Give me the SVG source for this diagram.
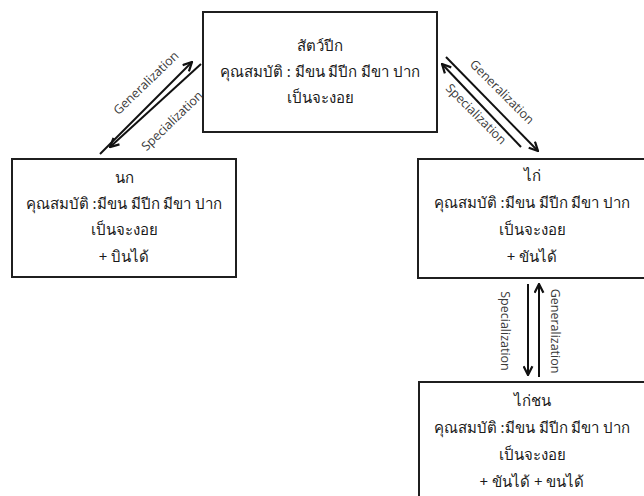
<svg xmlns="http://www.w3.org/2000/svg" width="644" height="496" viewBox="0 0 644 496">
  <style>
    .box { fill: #ffffff; stroke: #1f1f1f; stroke-width: 2; }
    .th { font-family: "Noto Sans", "DejaVu Sans", sans-serif; font-size: 15px; fill: #1a1a1a; text-anchor: middle; }
    .lbl { font-family: "Open Sans", "Liberation Sans", sans-serif; font-size: 12.5px; fill: #3a3a3a; text-anchor: middle; }
    .conn { stroke: #111111; stroke-width: 2; fill: none; marker-end: url(#head); }
  </style>
  <defs>
    <marker id="head" viewBox="0 0 10 10" refX="9" refY="5" markerWidth="5.5" markerHeight="5.5" orient="auto" markerUnits="strokeWidth">
      <path d="M1,1 L9,5 L1,9" fill="none" stroke="#111111" stroke-width="2"/>
    </marker>
  </defs>
  <rect width="644" height="496" fill="#ffffff"/>

  <!-- connectors: paired generalization / specialization arrows -->
  <g id="connectors">
    <line class="conn" x1="100" y1="154" x2="192" y2="62"/>
    <line class="conn" x1="201" y1="64" x2="110" y2="147"/>
    <line class="conn" x1="446" y1="57" x2="538" y2="151"/>
    <line class="conn" x1="521" y1="147" x2="442" y2="64"/>
    <line class="conn" x1="528" y1="284" x2="528" y2="375"/>
    <line class="conn" x1="539" y1="377" x2="539" y2="284"/>
    <text class="lbl" transform="translate(149,86) rotate(-44)">Generalization</text>
    <text class="lbl" transform="translate(175,124) rotate(-44)">Specialization</text>
    <text class="lbl" transform="translate(499,95) rotate(45)">Generalization</text>
    <text class="lbl" transform="translate(473,117) rotate(45)">Specialization</text>
    <text class="lbl" transform="translate(501,331) rotate(90)">Specialization</text>
    <text class="lbl" transform="translate(551,331) rotate(90)">Generalization</text>
  </g>

  <g id="node-bird-class">
    <rect class="box" x="203" y="12" width="234" height="120"/>
    <text class="th" x="320" y="51">สัตว์ปีก</text>
    <text class="th" x="320" y="77">คุณสมบัติ : มีขน มีปีก มีขา ปาก</text>
    <text class="th" x="320" y="103">เป็นจะงอย</text>
  </g>

  <g id="node-bird">
    <rect class="box" x="12" y="159" width="224" height="118"/>
    <text class="th" x="124" y="183">นก</text>
    <text class="th" x="124" y="209">คุณสมบัติ :มีขน มีปีก มีขา ปาก</text>
    <text class="th" x="124" y="235">เป็นจะงอย</text>
    <text class="th" x="124" y="262">+ บินได้</text>
  </g>

  <g id="node-chicken">
    <rect class="box" x="418" y="159" width="240" height="119"/>
    <text class="th" x="532" y="181">ไก่</text>
    <text class="th" x="532" y="208">คุณสมบัติ :มีขน มีปีก มีขา ปาก</text>
    <text class="th" x="532" y="235">เป็นจะงอย</text>
    <text class="th" x="532" y="262">+ ขันได้</text>
  </g>

  <g id="node-gamecock">
    <rect class="box" x="419" y="382" width="240" height="130"/>
    <text class="th" x="532" y="406">ไก่ชน</text>
    <text class="th" x="532" y="433">คุณสมบัติ :มีขน มีปีก มีขา ปาก</text>
    <text class="th" x="532" y="460">เป็นจะงอย</text>
    <text class="th" x="532" y="487">+ ขันได้ + ขนได้</text>
  </g>
</svg>
